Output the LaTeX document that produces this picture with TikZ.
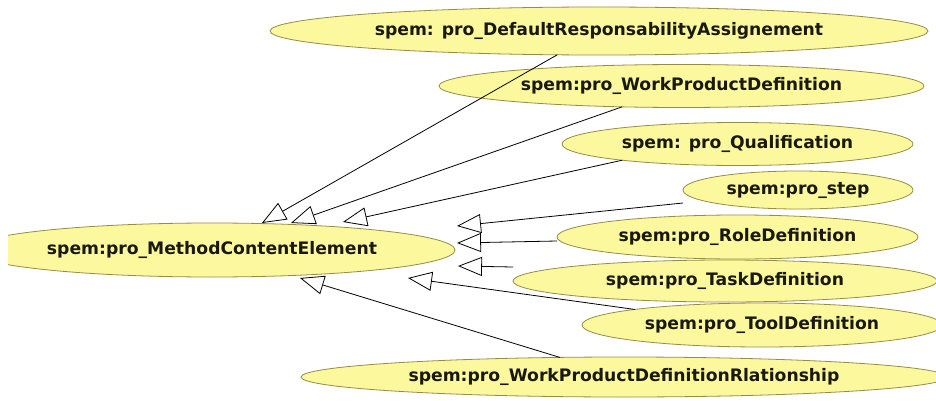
\documentclass[tikz,border=0pt]{standalone}
\usepackage{fontspec}
\setmainfont{DejaVu Sans}
\usetikzlibrary{arrows.meta,shapes.geometric}
\definecolor{ellfill}{RGB}{252,248,158}
\definecolor{elldraw}{RGB}{150,140,70}
\definecolor{txt}{RGB}{25,25,15}
\begin{document}
\begin{tikzpicture}[x=1pt,y=-1pt,
  cls/.style={ellipse, draw=elldraw, line width=0.8pt, fill=ellfill, inner sep=0pt, outer sep=0pt,
    font=\bfseries\fontsize{17.2}{20}\selectfont, text=txt},
  gen/.style={draw=black, line width=0.8pt, -{Triangle[length=24pt,width=19pt,fill=white]}}]
\useasboundingbox (0,0) rectangle (936,401);
\fill[white] (0,0) rectangle (936,401);

\begin{scope}
\clip (8,0) rectangle (936,401);
\node[cls, minimum width=486pt, minimum height=54pt] (mce) at (212,250) {\makebox[0pt]{spem:pro\_MethodContentElement}};
\end{scope}
\node[cls, minimum width=658pt, minimum height=48pt] (dr) at (599,31) {\makebox[0pt]{spem: pro\_DefaultResponsabilityAssignement}};
\node[cls, minimum width=485pt, minimum height=43pt] (wpd) at (681.5,86) {\makebox[0pt]{spem:pro\_WorkProductDefinition}};
\node[cls, minimum width=351pt, minimum height=43pt] (qual) at (737.5,144) {\makebox[0pt]{spem: pro\_Qualification}};
\node[cls, minimum width=230pt, minimum height=38pt] (step) at (798,190) {\makebox[0pt]{spem:pro\_step}};
\node[cls, minimum width=361pt, minimum height=44pt] (role) at (737.5,237) {\makebox[0pt]{spem:pro\_RoleDefinition}};
\node[cls, minimum width=424pt, minimum height=42pt] (task) at (725,281) {\makebox[0pt]{spem:pro\_TaskDefinition}};
\node[cls, minimum width=360pt, minimum height=44pt] (tool) at (762,325) {\makebox[0pt]{spem:pro\_ToolDefinition}};
\node[cls, minimum width=646pt, minimum height=40pt] (wpdr) at (624,377) {\makebox[0pt]{spem:pro\_WorkProductDefinitionRlationship}};

\coordinate (tA) at (262,223);
\coordinate (tB) at (291,223);
\coordinate (tC) at (343,222);
\coordinate (tD) at (457,226);
\coordinate (tE) at (457,243);
\coordinate (tF) at (458,266);
\coordinate (tG) at (408,278);
\coordinate (tH) at (300,278);

\draw[gen] (dr) -- (tA);
\draw[gen] (wpd) -- (tB);
\draw[gen] (qual.188) -- (tC);
\draw[gen] ([yshift=-13pt]step.west) -- (tD);
\draw[gen] ([yshift=-4pt]role.west) -- (tE);
\draw[gen] ([yshift=14pt]task.west) -- (tF);
\draw[gen] (tool.north west) -- (tG);
\draw[gen] (wpdr) -- (tH);
\end{tikzpicture}
\end{document}
